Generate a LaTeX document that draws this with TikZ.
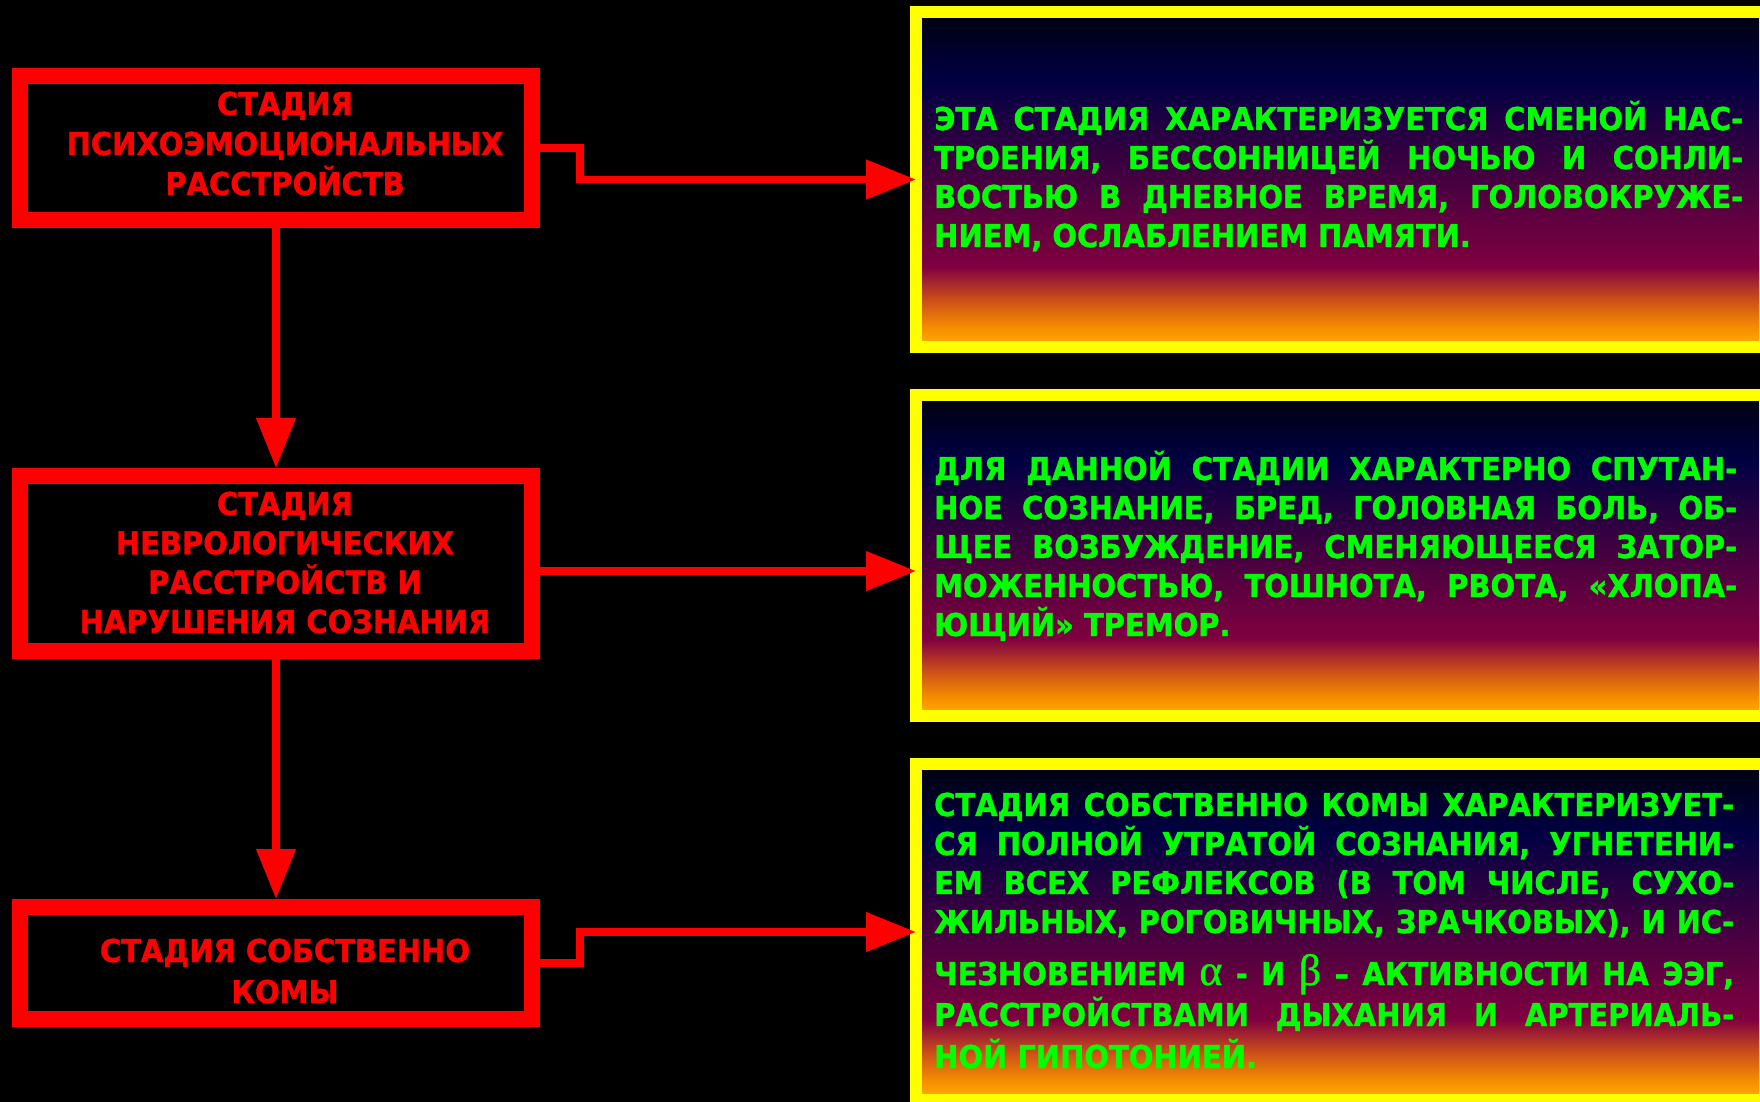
\documentclass[tikz,border=0pt]{standalone}
\usepackage{fontspec}
\usetikzlibrary{arrows.meta}
\newfontfamily\redfnt{DejaVu Sans Bold}[FakeStretch=0.92,FakeBold=1.2]
\newfontfamily\grnfnt{DejaVu Sans Bold}[FakeStretch=0.92,FakeBold=1.2]
\newfontfamily\grkfnt{Liberation Serif}[FakeBold=1]
\definecolor{rd}{RGB}{255,0,0}
\definecolor{gr}{RGB}{0,255,0}
\definecolor{yl}{RGB}{255,255,0}
\definecolor{sA}{RGB}{255,178,0}
\definecolor{sB}{RGB}{245,140,0}
\definecolor{sC}{RGB}{205,80,25}
\definecolor{sD}{RGB}{128,0,64}
\definecolor{sE}{RGB}{70,0,64}
\definecolor{sF}{RGB}{0,0,66}
\definecolor{sG}{RGB}{0,0,14}
\pgfdeclareverticalshading{sunset}{100bp}{color(0bp)=(sA); color(25bp)=(sA); color(28bp)=(sB); color(32bp)=(sC); color(37bp)=(sD); color(50bp)=(sE); color(65bp)=(sF); color(75bp)=(sG); color(100bp)=(sG)}
\newcommand{\jl}[2]{\makebox[#1][s]{#2}}
\newcommand{\grk}[1]{{\grkfnt\fontsize{44pt}{44pt}\selectfont #1}}
\tikzset{
  lbox/.style={draw=rd, line width=16pt, fill=black, inner sep=0pt},
  rbox/.style={draw=yl, line width=12pt, shade, shading=sunset, inner sep=0pt, outer sep=0pt},
  rtext/.style={text=rd, inner sep=0pt, font=\redfnt\fontsize{31.5pt}{40pt}\selectfont},
  gtext/.style={text=gr, inner sep=0pt, font=\grnfnt\fontsize{31.5pt}{39pt}\selectfont},
  conn/.style={draw=rd, line width=7.5pt, -{Triangle[length=50pt,width=38pt]}}
}
\begin{document}
\begin{tikzpicture}[x=1pt,y=-1pt]
\useasboundingbox (0,0) rectangle (1760,1102);
\fill[black] (0,0) rectangle (1760,1102);
% left boxes
\node[lbox, minimum width=512pt, minimum height=144pt] (b1) at (276,148) {};
\node[lbox, minimum width=512pt, minimum height=175pt] (b2) at (276,563.5) {};
\node[lbox, minimum width=512pt, minimum height=112pt] (b3) at (276,963) {};
% right boxes
\node[rbox, minimum width=849pt, minimum height=335pt] (r1) at (1340.5,179.5) {};
\node[rbox, minimum width=849pt, minimum height=321pt] (r2) at (1340.5,555.5) {};
\node[rbox, minimum width=849pt, minimum height=336pt] (r3) at (1340.5,932) {};
% left texts
\node[rtext, anchor=base] (t1) at (285,115) {\parbox[t]{520pt}{\centering СТАДИЯ\\ ПСИХОЭМОЦИОНАЛЬНЫХ\\ РАССТРОЙСТВ}};
\node[rtext, anchor=base] (t2) at (285,515) {\parbox[t]{520pt}{\centering\baselineskip=39.3pt СТАДИЯ\\ НЕВРОЛОГИЧЕСКИХ\\ РАССТРОЙСТВ И\\ НАРУШЕНИЯ СОЗНАНИЯ}};
\node[rtext, anchor=base] (t3) at (285,962) {\parbox[t]{520pt}{\centering\baselineskip=41pt СТАДИЯ СОБСТВЕННО\\ КОМЫ}};
% right texts
\node[gtext, anchor=base west] (t4) at (934,130) {\parbox[t]{809pt}{\lineskiplimit=-50pt
\jl{809pt}{ЭТА СТАДИЯ ХАРАКТЕРИЗУЕТСЯ СМЕНОЙ НАС-}\\
\jl{809pt}{ТРОЕНИЯ, БЕССОННИЦЕЙ НОЧЬЮ И СОНЛИ-}\\
\jl{809pt}{ВОСТЬЮ В ДНЕВНОЕ ВРЕМЯ, ГОЛОВОКРУЖЕ-}\\
НИЕМ, ОСЛАБЛЕНИЕМ ПАМЯТИ.}};
\node[gtext, anchor=base west] (t5) at (934,480) {\parbox[t]{803pt}{\lineskiplimit=-50pt
\jl{803pt}{ДЛЯ ДАННОЙ СТАДИИ ХАРАКТЕРНО СПУТАН-}\\
\jl{803pt}{НОЕ СОЗНАНИЕ, БРЕД, ГОЛОВНАЯ БОЛЬ, ОБ-}\\
\jl{803pt}{ЩЕЕ ВОЗБУЖДЕНИЕ, СМЕНЯЮЩЕЕСЯ ЗАТОР-}\\
\jl{803pt}{МОЖЕННОСТЬЮ, ТОШНОТА, РВОТА, «ХЛОПА-}\\
ЮЩИЙ» ТРЕМОР.}};
\node[gtext, anchor=base west] (t6) at (934,816) {\parbox[t]{800pt}{\lineskiplimit=-50pt
\jl{800pt}{СТАДИЯ СОБСТВЕННО КОМЫ ХАРАКТЕРИЗУЕТ-}\\
\jl{800pt}{СЯ ПОЛНОЙ УТРАТОЙ СОЗНАНИЯ, УГНЕТЕНИ-}\\
\jl{800pt}{ЕМ ВСЕХ РЕФЛЕКСОВ (В ТОМ ЧИСЛЕ, СУХО-}\\
\jl{800pt}{ЖИЛЬНЫХ, РОГОВИЧНЫХ, ЗРАЧКОВЫХ), И ИС-}\\[13pt]
\jl{800pt}{ЧЕЗНОВЕНИЕМ \grk{α} - И \grk{β} – АКТИВНОСТИ НА ЭЭГ,}\\[2pt]
\jl{800pt}{РАССТРОЙСТВАМИ ДЫХАНИЯ И АРТЕРИАЛЬ-}\\[3pt]
НОЙ ГИПОТОНИЕЙ.}};
% connectors
\draw[conn] (b1.south) -- (b2.north);
\draw[conn] (b2.south) -- (b3.north);
\draw[conn] (b1.east) -- ++(40,0) |- (r1.west);
\draw[conn] ([yshift=-7.5pt]b2.east) -- ([yshift=-7.5pt]b2.east -| r2.west);
\draw[conn] (b3.east) -- ++(40,0) |- (r3.west);
\end{tikzpicture}
\end{document}
